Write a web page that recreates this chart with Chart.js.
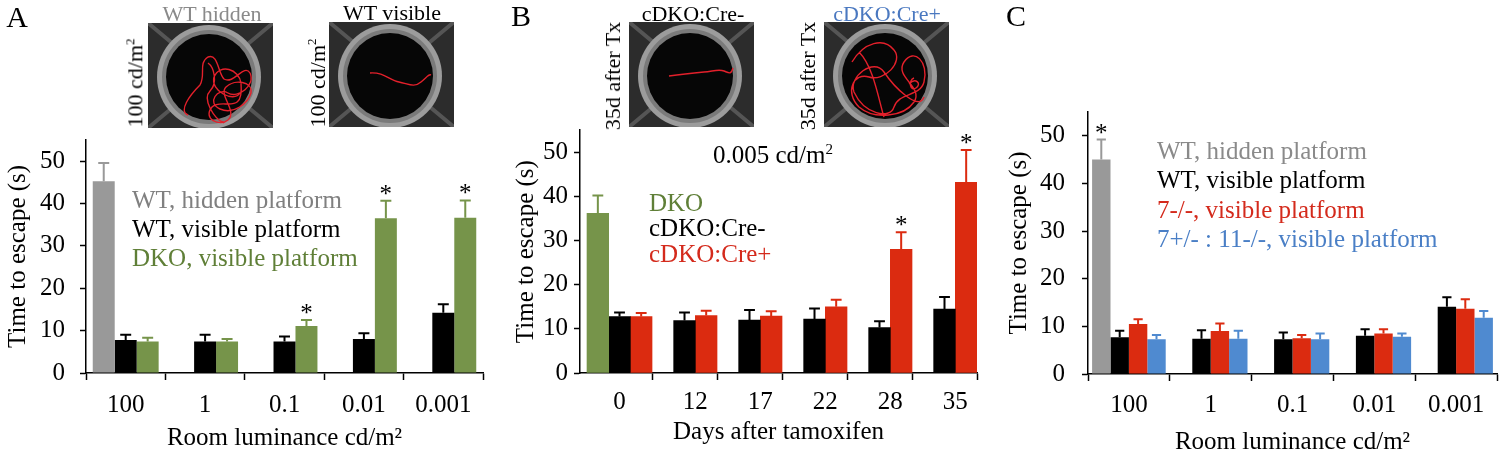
<!DOCTYPE html>
<html><head><meta charset="utf-8">
<script src="https://cdn.jsdelivr.net/npm/chart.js@4.4.1/dist/chart.umd.min.js"></script>
<style>
html,body{margin:0;padding:0;background:#fff;}
#root{position:relative;width:1500px;height:453px;overflow:hidden;font-family:"Liberation Serif","Times New Roman",serif;color:#000;}
.t{position:absolute;white-space:nowrap;font-size:25px;line-height:30px;}
.m{position:absolute;white-space:nowrap;transform:translate(-50%,-50%);}
.v{position:absolute;white-space:nowrap;font-size:22px;line-height:26px;transform:translate(-50%,-50%) rotate(-90deg);}
canvas{position:absolute;top:0;}
svg{position:absolute;}
</style></head><body><div id="root">
<canvas id="cA" width="500" height="453" style="left:0"></canvas>
<canvas id="cB" width="500" height="453" style="left:500px"></canvas>
<canvas id="cC" width="500" height="453" style="left:1000px"></canvas>

<div class="m" style="left:17px;top:17px;font-size:30px">A</div>
<div class="m" style="left:521px;top:16px;font-size:30px">B</div>
<div class="m" style="left:1016px;top:16px;font-size:30px">C</div>

<div class="m" style="left:212px;top:14px;font-size:22px;color:#8a8a8a">WT hidden</div>
<div class="m" style="left:392px;top:13px;font-size:22px">WT visible</div>
<div class="m" style="left:693px;top:14px;font-size:22px">cDKO:Cre-</div>
<div class="m" style="left:887px;top:14px;font-size:22px;color:#4a78c0">cDKO:Cre+</div>
<div class="v" style="left:133px;top:83px">100 cd/m<sup style="font-size:13px">2</sup></div>
<div class="v" style="left:315px;top:83px">100 cd/m<sup style="font-size:13px">2</sup></div>
<div class="v" style="left:613px;top:76px">35d after Tx</div>
<div class="v" style="left:808px;top:76px">35d after Tx</div>

<svg id="p1" style="left:148px;top:23px" width="125" height="105"></svg>
<svg id="p2" style="left:329px;top:22px" width="125" height="105"></svg>
<svg id="p3" style="left:629px;top:22px" width="125" height="105"></svg>
<svg id="p4" style="left:824px;top:22px" width="125" height="105"></svg>

<div class="t" style="left:132px;top:185px;color:#808080">WT, hidden platform</div>
<div class="t" style="left:132px;top:214px">WT, visible platform</div>
<div class="t" style="left:132px;top:243px;color:#5f7f37">DKO, visible platform</div>

<div class="m" style="left:773px;top:155px;font-size:25px">0.005 cd/m<sup style="font-size:15px">2</sup></div>
<div class="t" style="left:649px;top:188px;color:#5f7f37">DKO</div>
<div class="t" style="left:649px;top:213px">cDKO:Cre-</div>
<div class="t" style="left:649px;top:239px;color:#d42a1c">cDKO:Cre+</div>

<div class="t" style="left:1157px;top:136px;color:#8a8a8a">WT, hidden platform</div>
<div class="t" style="left:1157px;top:165px">WT, visible platform</div>
<div class="t" style="left:1157px;top:195px;color:#d42a1c">7-/-, visible platform</div>
<div class="t" style="left:1157px;top:224px;color:#4a7fc6">7+/- : 11-/-, visible platform</div>
</div>
<script>
// ---------- data ----------
const aLabels = ['100', '1', '0.1', '0.01', '0.001'];
const aWtHidden = [45.2, null, null, null, null];
const aWtHiddenErr = [4.3, null, null, null, null];
const aWtVisible = [7.8, 7.4, 7.4, 8.0, 14.2];
const aWtVisibleErr = [1.2, 1.6, 1.2, 1.4, 2.0];
const aDko = [7.4, 7.4, 11.1, 36.5, 36.6];
const aDkoErr = [0.9, 0.6, 1.4, 4.1, 4.1];
const aDkoStar = [false, false, true, true, true];

const bLabels = ['0', '12', '17', '22', '28', '35'];
const bDko = [36.2, null, null, null, null, null];
const bDkoErr = [4.0, null, null, null, null, null];
const bCreMinus = [12.8, 11.9, 12.0, 12.2, 10.3, 14.5];
const bCreMinusErr = [0.9, 1.8, 2.3, 2.4, 1.4, 2.7];
const bCrePlus = [12.8, 13.0, 12.9, 15.0, 28.0, 43.2];
const bCrePlusErr = [0.8, 1.1, 1.1, 1.6, 3.9, 7.3];
const bCrePlusStar = [false, false, false, false, true, true];

const cLabels = ['100', '1', '0.1', '0.01', '0.001'];
const cWtHidden = [45.0, null, null, null, null];
const cWtHiddenErr = [4.2, null, null, null, null];
const cWtHiddenStar = [true, false, false, false, false];
const cWtVisible = [7.7, 7.4, 7.3, 8.0, 14.1];
const cWtVisibleErr = [1.4, 1.8, 1.4, 1.4, 2.0];
const cKo7 = [10.5, 9.0, 7.5, 8.5, 13.7];
const cKo7Err = [1.0, 1.6, 0.7, 0.9, 2.0];
const cHet7Ko11 = [7.3, 7.4, 7.3, 7.8, 11.8];
const cHet7Ko11Err = [0.9, 1.7, 1.2, 0.7, 1.4];

const yTicks = [0, 10, 20, 30, 40, 50];
const yMax = 55;

// ---------- styles ----------
const FONT = '"Liberation Serif", "Times New Roman", serif';
const GRAY = '#999999', BLACK = '#000000', GREEN = '#76944a', RED = '#db2b10', BLUE = '#4f8ad0';

// ---------- photos (decorative) ----------
const photoPaths = {
  p1: 'M40,92 C30,88 42,72 52,62 C58,52 50,40 60,34 C70,30 70,50 76,56 C86,62 96,40 102,50 C108,62 90,76 80,70 C70,64 58,80 72,86 C86,92 100,80 103,70 C105,58 86,56 78,64 C70,72 90,88 80,97 C72,104 54,96 64,84 C74,74 96,94 93,60 C91,46 72,40 66,54 C62,68 86,80 92,70 M60,40 C66,44 70,60 62,68 C54,76 66,96 76,100',
  p2: 'M41,51 C55,50 60,58 70,60 S85,66 92,60 S100,52 102,53',
  p3: 'M40,54 C55,52 65,51 75,50 S90,47 95,49 S102,53 104,46',
  p4: 'M28,40 C40,20 60,15 70,28 C80,40 60,60 45,55 C30,50 20,70 35,85 C50,98 80,95 90,80 C100,65 70,55 80,40 C90,25 105,40 100,60 C96,75 75,70 70,85 C66,98 40,92 30,70 C24,55 50,35 60,50 C70,65 95,90 100,75 M85,62 C92,55 98,62 92,66 C86,70 84,58 90,56 M35,30 C50,45 55,80 60,95'
};
for (const id in photoPaths) {
  const s = document.getElementById(id);
  s.innerHTML = '<rect width="125" height="105" fill="#2c2c2c"/>' +
    '<path d="M0,0 L30,25 M125,0 L95,25 M0,105 L30,80 M125,105 L95,80" stroke="#555" stroke-width="4"/>' +
    '<circle cx="61" cy="54" r="52" fill="#9c9c9c"/>' +
    '<circle cx="61" cy="54" r="47" fill="#7a7a7a"/>' +
    '<circle cx="61" cy="54" r="43" fill="#060606"/>' +
    '<path d="' + photoPaths[id] + '" fill="none" stroke="#e3202b" stroke-width="1.4"/>';
}

// ---------- error bars + asterisks ----------
const errPlugin = {
  id: 'errs',
  afterDatasetsDraw(chart) {
    const ctx = chart.ctx, ys = chart.scales.y;
    chart.data.datasets.forEach((ds, di) => {
      if (!ds.err) return;
      const meta = chart.getDatasetMeta(di);
      meta.data.forEach((el, i) => {
        const raw = ds.data[i];
        const val = (raw && typeof raw === 'object') ? raw.y : raw;
        if (val == null || ds.err[i] == null) return;
        const yTop = ys.getPixelForValue(val + ds.err[i]);
        const x = el.x, w = el.width * 0.5;
        ctx.save();
        ctx.strokeStyle = ds.backgroundColor; ctx.lineWidth = 2;
        ctx.beginPath();
        ctx.moveTo(x, el.y); ctx.lineTo(x, yTop);
        ctx.moveTo(x - w / 2, yTop); ctx.lineTo(x + w / 2, yTop);
        ctx.stroke();
        if (ds.stars && ds.stars[i]) {
          ctx.fillStyle = '#000'; ctx.font = '25px ' + FONT;
          ctx.textAlign = 'center'; ctx.textBaseline = 'alphabetic';
          ctx.fillText('*', x, yTop + 1);
        }
        ctx.restore();
      });
    });
  }
};

function yScale(o) {
  return {
    type: 'linear', min: 0, max: yMax,
    afterBuildTicks: s => { s.ticks = yTicks.map(v => ({ value: v })); },
    ticks: { color: '#000', font: { family: FONT, size: 25 }, padding: o.tickPad, callback: v => String(v) },
    grid: { drawOnChartArea: false, tickLength: 6, tickColor: '#000', tickWidth: 1.5 },
    border: { display: true, color: '#000', width: 1.5 },
    title: { display: true, text: 'Time to escape (s)', color: '#000', font: { family: FONT, size: 25 }, padding: { top: o.titlePad, bottom: 0 } },
    afterFit: s => { s.width = o.width; }
  };
}
function xCat(o) {
  return {
    type: 'category', offset: true,
    grid: { offset: true, drawOnChartArea: false, tickLength: 7, tickColor: '#000', tickWidth: 1.5 },
    border: { display: true, color: '#000', width: 1.5 },
    ticks: { color: '#000', font: { family: FONT, size: 25 }, padding: o.tickPad, maxRotation: 0, autoSkip: false },
    title: { display: true, text: o.title, color: '#000', font: { family: FONT, size: 25 }, padding: { top: 0, bottom: o.titleBottom } },
    afterFit: s => { s.height = o.height; }
  };
}
const common = {
  responsive: false, animation: false, devicePixelRatio: 1,
  plugins: { legend: { display: false }, tooltip: { enabled: false } }
};
function bar(label, data, color, err, stars, cp) {
  return { label, data, backgroundColor: color, borderWidth: 0, barPercentage: 1, categoryPercentage: cp, err, stars };
}

// Panel A
new Chart(document.getElementById('cA'), {
  type: 'bar',
  data: {
    labels: aLabels,
    datasets: [
      bar('WT, hidden platform', aWtHidden, GRAY, aWtHiddenErr, null, 0.83),
      bar('WT, visible platform', aWtVisible, BLACK, aWtVisibleErr, null, 0.83),
      bar('DKO, visible platform', aDko, GREEN, aDkoErr, aDkoStar, 0.83)
    ]
  },
  options: Object.assign({}, common, {
    layout: { padding: { left: 0, right: 17, top: 373 - 55 * 4.24, bottom: 0 } },
    scales: {
      x: xCat({ title: 'Room luminance cd/m\u00B2', tickPad: 10, titleBottom: 0, height: 80 }),
      y: yScale({ tickPad: 15, titlePad: 3, width: 86 })
    }
  }),
  plugins: [errPlugin]
});

// Panel B (linear x so labels can sit under the visible bars)
const bPts = arr => arr.map((v, i) => ({ x: i, y: v }));
const bBarWidth = 21.67;
const bDatasets = [
  bar('DKO', bPts(bDko), GREEN, bDkoErr, null, 1),
  bar('cDKO:Cre-', bPts(bCreMinus), BLACK, bCreMinusErr, null, 1),
  bar('cDKO:Cre+', bPts(bCrePlus), RED, bCrePlusErr, bCrePlusStar, 1)
];
bDatasets.forEach(d => { d.barThickness = bBarWidth; });
new Chart(document.getElementById('cB'), {
  type: 'bar',
  data: { datasets: bDatasets },
  options: Object.assign({}, common, {
    layout: { padding: { left: 0, right: 23, top: 373 - 55 * 4.414, bottom: 0 } },
    scales: {
      x: {
        type: 'linear', min: -0.608, max: bLabels.length - 0.5, offset: false,
        afterBuildTicks: s => {
          const t = [];
          bLabels.forEach((l, i) => { t.push({ value: i === 0 ? 0 : i + 1 / 6, lab: l }); t.push({ value: i + 0.5, lab: '' }); });
          t.sort((a, b) => a.value - b.value);
          s.ticks = t;
        },
        grid: { offset: false, drawOnChartArea: false, tickLength: 7, tickWidth: 1.5,
          tickColor: c => (c.tick && c.tick.lab === '') ? '#000' : 'rgba(0,0,0,0)' },
        border: { display: true, color: '#000', width: 1.5 },
        ticks: { color: '#000', font: { family: FONT, size: 25 }, padding: 7, maxRotation: 0, autoSkip: false,
          callback: (v, i, t) => t[i].lab },
        title: { display: true, text: 'Days after tamoxifen', color: '#000', font: { family: FONT, size: 25 }, padding: { top: 0, bottom: 6 } },
        afterFit: s => { s.height = 80; }
      },
      y: yScale({ tickPad: 6, titlePad: 11, width: 80 })
    }
  }),
  plugins: [errPlugin]
});

// Panel C
new Chart(document.getElementById('cC'), {
  type: 'bar',
  data: {
    labels: cLabels,
    datasets: [
      bar('WT, hidden platform', cWtHidden, GRAY, cWtHiddenErr, cWtHiddenStar, 0.9),
      bar('WT, visible platform', cWtVisible, BLACK, cWtVisibleErr, null, 0.9),
      bar('7-/-, visible platform', cKo7, RED, cKo7Err, null, 0.9),
      bar('7+/- : 11-/-, visible platform', cHet7Ko11, BLUE, cHet7Ko11Err, null, 0.9)
    ]
  },
  options: Object.assign({}, common, {
    layout: { padding: { left: 0, right: 3, top: 374 - 55 * 4.766, bottom: 0 } },
    scales: {
      x: xCat({ title: 'Room luminance cd/m\u00B2', tickPad: 9, titleBottom: -4, height: 79 }),
      y: yScale({ tickPad: 17, titlePad: 4, width: 88 })
    }
  }),
  plugins: [errPlugin]
});
</script>
</body></html>
